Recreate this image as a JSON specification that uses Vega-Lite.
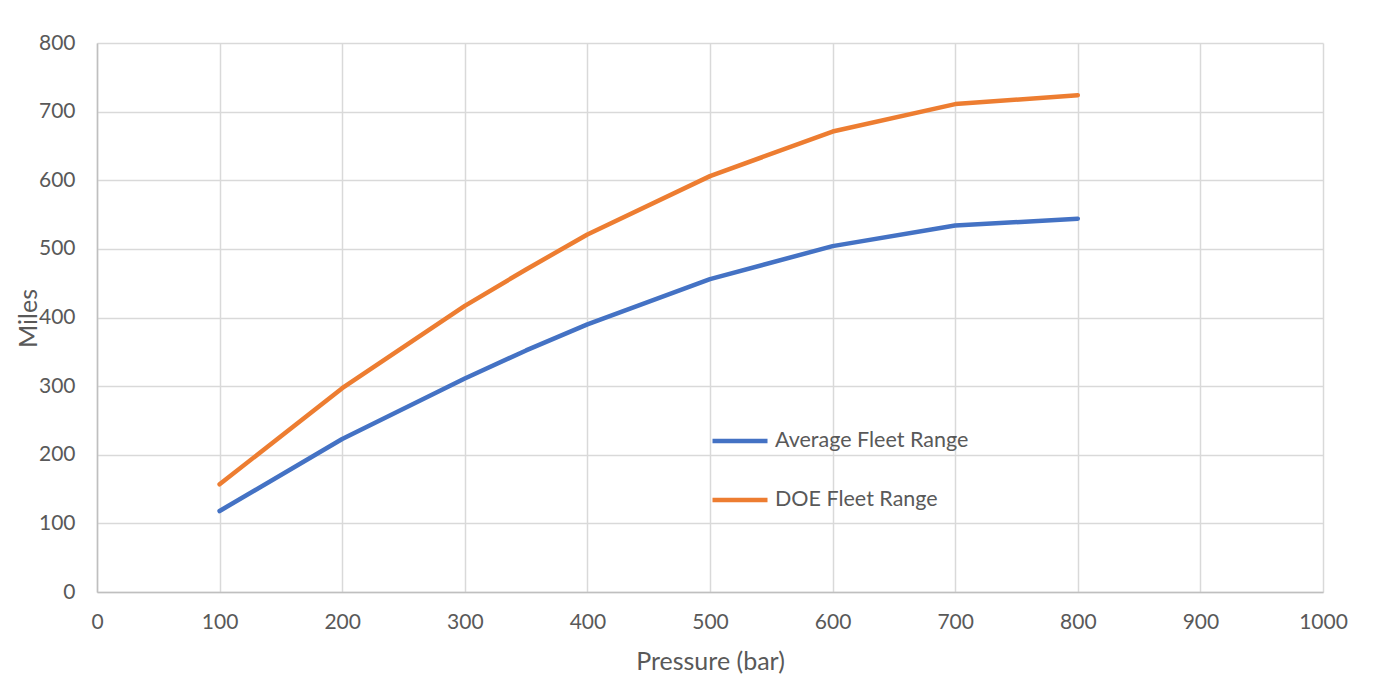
{
  "$schema": "https://vega.github.io/schema/vega-lite/v6.json",
  "autosize": "none",
  "width": 1226,
  "height": 549,
  "padding": {"left": 97, "top": 43, "right": 62, "bottom": 108},
  "background": "white",
  "config": {
    "view": {"stroke": null},
    "font": "Lato",
    "axis": {
      "labelFont": "Lato",
      "titleFont": "Lato",
      "labelColor": "#595959",
      "titleColor": "#595959",
      "labelFontSize": 21,
      "titleFontSize": 25,
      "titleFontWeight": "normal",
      "gridColor": "#d9d9d9",
      "gridWidth": 1.5,
      "domainColor": "#bfbfbf",
      "domainWidth": 1.5,
      "ticks": false,
      "labelFlush": false
    }
  },
  "data": {
    "values": [
      {"pressure": 100, "miles": 118, "series": "Average Fleet Range"},
      {"pressure": 200, "miles": 223, "series": "Average Fleet Range"},
      {"pressure": 300, "miles": 311, "series": "Average Fleet Range"},
      {"pressure": 350, "miles": 352, "series": "Average Fleet Range"},
      {"pressure": 400, "miles": 390, "series": "Average Fleet Range"},
      {"pressure": 500, "miles": 456, "series": "Average Fleet Range"},
      {"pressure": 600, "miles": 504, "series": "Average Fleet Range"},
      {"pressure": 700, "miles": 534, "series": "Average Fleet Range"},
      {"pressure": 800, "miles": 544, "series": "Average Fleet Range"},
      {"pressure": 100, "miles": 157, "series": "DOE Fleet Range"},
      {"pressure": 200, "miles": 297, "series": "DOE Fleet Range"},
      {"pressure": 300, "miles": 417, "series": "DOE Fleet Range"},
      {"pressure": 350, "miles": 470, "series": "DOE Fleet Range"},
      {"pressure": 400, "miles": 521, "series": "DOE Fleet Range"},
      {"pressure": 500, "miles": 606, "series": "DOE Fleet Range"},
      {"pressure": 600, "miles": 671, "series": "DOE Fleet Range"},
      {"pressure": 700, "miles": 711, "series": "DOE Fleet Range"},
      {"pressure": 800, "miles": 724, "series": "DOE Fleet Range"}
    ]
  },
  "mark": {"type": "line", "strokeWidth": 4.5, "strokeCap": "round", "strokeJoin": "round"},
  "encoding": {
    "x": {
      "field": "pressure",
      "type": "quantitative",
      "scale": {"domain": [0, 1000], "nice": false},
      "axis": {"values": [0,100,200,300,400,500,600,700,800,900,1000], "format": "d", "labelPadding": 19, "title": "Pressure (bar)", "titleY": 69, "titleBaseline": "middle"}
    },
    "y": {
      "field": "miles",
      "type": "quantitative",
      "scale": {"domain": [0, 800], "nice": false},
      "axis": {"values": [0,100,200,300,400,500,600,700,800], "labelPadding": 22, "title": "Miles", "titleX": -69, "titleY": 275, "titleAlign": "center", "titleBaseline": "middle"}
    },
    "color": {
      "field": "series",
      "type": "nominal",
      "scale": {"domain": ["Average Fleet Range", "DOE Fleet Range"], "range": ["#4472C4", "#ED7D31"]},
      "legend": {
        "title": null,
        "orient": "none",
        "legendX": 613,
        "legendY": 368,
        "symbolType": "stroke",
        "symbolSize": 3025,
        "symbolStrokeWidth": 4.5,
        "labelFont": "Lato",
        "labelFontSize": 21.5,
        "labelColor": "#595959",
        "labelOffset": 5,
        "labelLimit": 400,
        "rowPadding": 18
      }
    }
  }
}
